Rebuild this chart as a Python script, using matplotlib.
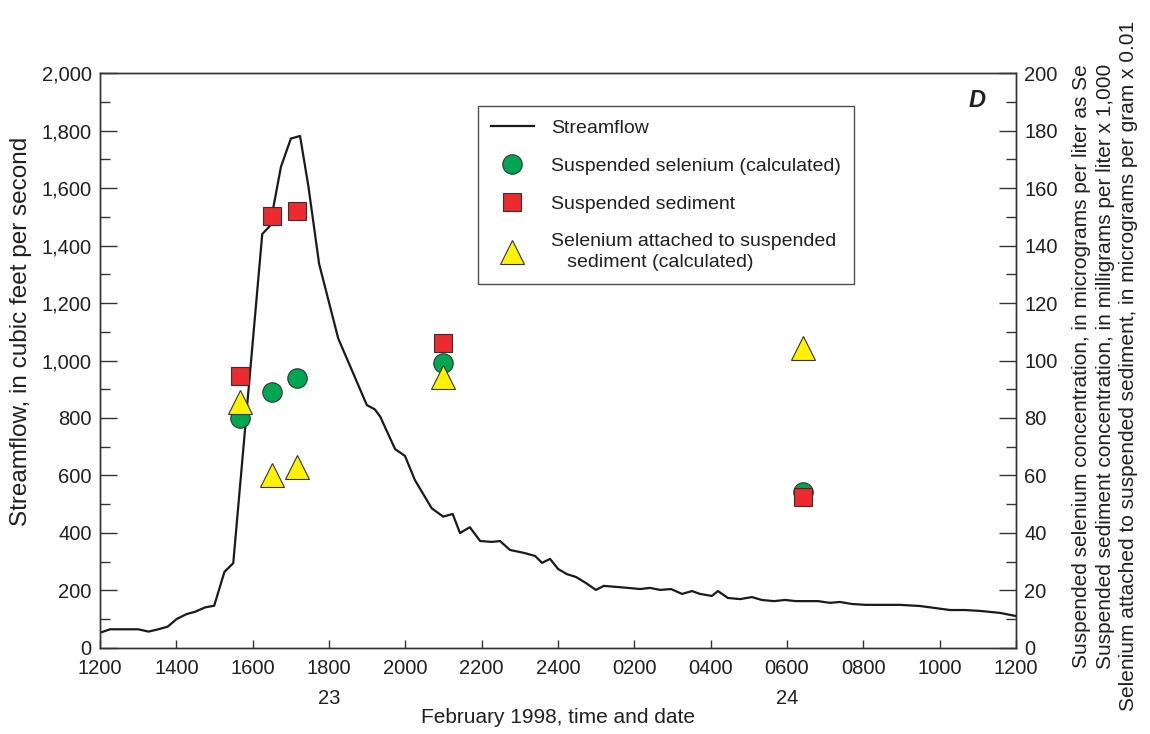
import numpy as np
import matplotlib
matplotlib.use('Agg')
import matplotlib.pyplot as plt
from matplotlib.ticker import MultipleLocator, FuncFormatter

plt.rcParams['font.family'] = ['Liberation Sans', 'DejaVu Sans']
plt.rcParams['font.size'] = 14.5
plt.rcParams['text.color'] = '#231f20'
plt.rcParams['xtick.labelcolor'] = '#231f20'
plt.rcParams['ytick.labelcolor'] = '#231f20'

# Streamflow, hours after 1200 on February 22, 1998
flow_hours = [0.00, 0.26, 1.00, 1.27, 1.53, 1.77, 2.01, 2.27, 2.49, 2.75, 2.99, 3.26, 3.49,
              4.25, 4.45, 4.74, 5.00, 5.24, 5.46, 5.74, 6.24, 6.99, 7.20, 7.34, 7.73, 7.99,
              8.25, 8.69, 8.99, 9.24, 9.43, 9.69, 9.96, 10.27, 10.48, 10.74, 11.13, 11.40,
              11.58, 11.79, 12.00, 12.23, 12.47, 12.73, 12.99, 13.20, 13.57, 13.83, 14.15,
              14.41, 14.67, 14.96, 15.25, 15.51, 15.72, 16.03, 16.19, 16.45, 16.77, 17.08,
              17.34, 17.66, 17.95, 18.23, 18.50, 18.81, 19.12, 19.39, 19.70, 20.07, 20.44,
              20.96, 21.48, 21.88, 22.27, 22.66, 23.05, 23.58, 24.00]
flow_cfs = [53, 65, 65, 57, 65, 74, 101, 118, 126, 141, 147, 265, 295,
            1440, 1468, 1674, 1772, 1781, 1605, 1336, 1077, 845, 830, 805, 692, 668,
            584, 486, 457, 466, 400, 420, 372, 369, 372, 341, 330, 320,
            296, 310, 275, 257, 247, 226, 202, 216, 212, 209, 205,
            209, 202, 205, 188, 198, 188, 181, 198, 174, 170, 177,
            167, 163, 167, 163, 163, 163, 157, 160, 153, 150, 150,
            150, 146, 139, 132, 132, 129, 122, 111]

# Sample times (hours after 1200) and concentrations (right axis units)
sample_hours = [3.67, 4.50, 5.16, 8.99, 18.42]
se_susp = [80.1, 88.9, 94.0, 99.0, 54.3]
sediment = [94.6, 150.4, 152.1, 106.2, 52.5]
se_attached = [85.6, 60.3, 63.1, 94.3, 104.2]

tick_hours = list(range(0, 25, 2))
tick_labels = ['1200', '1400', '1600', '1800', '2000', '2200', '2400',
               '0200', '0400', '0600', '0800', '1000', '1200']
date_marks = [(6, '23'), (18, '24')]

fig = plt.figure(figsize=(11.5, 7.34), dpi=100)
ax = fig.add_axes([0.087, 0.1172, 0.7965, 0.7833])
ax2 = ax.twinx()

edge = '#333333'
ln, = ax.plot(flow_hours, flow_cfs, color='#1a1a1a', lw=1.6, label='Streamflow', zorder=2)

ax2.plot(sample_hours, se_susp, 'o', ms=14, mfc='#00A651', mec=edge, mew=0.8,
         label='Suspended selenium (calculated)', zorder=3)
ax2.plot(sample_hours, sediment, 's', ms=13.5, mfc='#ED2A2E', mec=edge, mew=0.8,
         label='Suspended sediment', zorder=4)
ax2.plot(sample_hours, se_attached, '^', ms=17.5, mfc='#FFF200', mec=edge, mew=0.8,
         label='Selenium attached to suspended\n   sediment (calculated)', zorder=5)

ax.set_xlim(0, 24)
ax.set_ylim(0, 2000)
ax2.set_ylim(0, 200)

ax.set_xticks(tick_hours)
ax.set_xticklabels(tick_labels)
ax.yaxis.set_major_locator(MultipleLocator(200))
ax.yaxis.set_minor_locator(MultipleLocator(100))
ax.yaxis.set_major_formatter(FuncFormatter(lambda v, p: f'{int(v):,}'))
ax2.yaxis.set_major_locator(MultipleLocator(20))
ax2.yaxis.set_minor_locator(MultipleLocator(10))

ax.tick_params(axis='x', direction='in', length=6, width=1, color=edge, pad=8)
ax.tick_params(axis='y', which='major', direction='in', length=12, width=1, color=edge, pad=6)
ax.tick_params(axis='y', which='minor', direction='in', length=7, width=1, color=edge)
ax2.tick_params(axis='y', which='major', direction='in', length=12, width=1, color=edge, pad=6)
ax2.tick_params(axis='y', which='minor', direction='in', length=7, width=1, color=edge)

for a in (ax, ax2):
    for s in a.spines.values():
        s.set_color(edge)
        s.set_linewidth(1)

for h, d in date_marks:
    ax.text(h, -0.088, d, transform=ax.get_xaxis_transform(), ha='center', va='center')

fig.text(0.485, 0.022, 'February 1998, time and date', ha='center', va='center', fontsize=15)
fig.text(0.018, 0.548, 'Streamflow, in cubic feet per second', rotation=90,
         ha='center', va='center', fontsize=17.5)

fig.text(0.9613, 0.501,
         'Suspended selenium concentration, in micrograms per liter as Se\n'
         'Suspended sediment concentration, in milligrams per liter x 1,000\n'
         'Selenium attached to suspended sediment, in micrograms per gram x 0.01',
         rotation=90, ha='center', va='center', multialignment='center',
         linespacing=1.3, fontsize=15)

ax.text(0.967, 0.972, 'D', transform=ax.transAxes, ha='right', va='top',
        fontsize=17, fontweight='bold', fontstyle='italic')

h2, l2 = ax2.get_legend_handles_labels()
handles = [ln] + h2
labels = ['Streamflow'] + l2
leg = ax2.legend(handles, labels, loc='upper left', bbox_to_anchor=(0.413, 0.942),
                 frameon=True, fancybox=False, edgecolor='#222222', fontsize=14,
                 handlelength=2.2, borderpad=0.65, labelspacing=1.05, handletextpad=0.9,
                 borderaxespad=0)
leg.get_frame().set_linewidth(1)
for t in leg.get_texts():
    t.set_linespacing(1.3)

fig.savefig('out.png', dpi=100)
